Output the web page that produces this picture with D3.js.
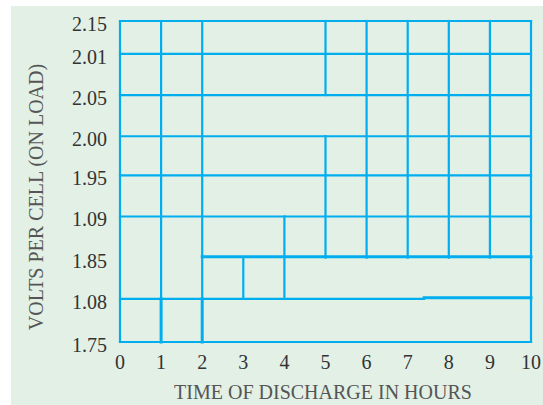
<!DOCTYPE html>
<html>
<head>
<meta charset="utf-8">
<script src="https://cdn.jsdelivr.net/npm/d3@7"></script>
<style>
  body { margin: 0; background: #ffffff; }
  text { font-family: "Liberation Serif", "DejaVu Serif", serif; }
</style>
</head>
<body>
<script>
// Width and height
var w = 543;
var h = 405;

// Tick labels (hours along the bottom, volts up the side, bottom to top)
var hours = [0, 1, 2, 3, 4, 5, 6, 7, 8, 9, 10];
var voltLabels = ["1.75", "1.08", "1.85", "1.09", "1.95", "2.00", "2.05", "2.01", "2.15"];
// level of each volt label on the grid
var voltLevels = [0, 1.05, 2.05, 3.05, 4.05, 5, 6, 7, 7.8];

// Horizontal grid pieces: [label index, from hour, to hour, heavy]
var hLines = [
  [8, 0, 10, 0],
  [7, 0, 10, 0],
  [6, 0, 10, 0],
  [5, 0, 10, 0],
  [4, 0, 10, 0],
  [3, 0, 10, 0],
  [2, 2, 10, 1],
  [1, 0, 7.4, 0],
  [1, 7.4, 10, 1],
  [0, 0, 10, 0]
];

// Vertical grid pieces: [hour, from label index, to label index, heavy]
var vLines = [
  [0, 0, 8, 0],
  [1, 1, 8, 0],
  [1, 0, 1, 1],
  [2, 1, 8, 0],
  [2, 0, 1, 1],
  [3, 1, 2, 0],
  [4, 1, 3, 0],
  [5, 6, 8, 0],
  [5, 2, 5, 0],
  [6, 2, 8, 0],
  [7, 2, 8, 0],
  [8, 2, 8, 0],
  [9, 2, 8, 0],
  [10, 0, 8, 0]
];

var lineColor = "#00aeef";

// Scales
var xScale = d3.scaleLinear()
    .domain([0, 10])
    .range([120, 531]);

var yScale = d3.scaleLinear()
    .domain([0, 7.8])
    .range([342, 21]);

function yAt(i) { return yScale(voltLevels[i]); }

// SVG
var svg = d3.select("body")
    .append("svg")
    .attr("width", w)
    .attr("height", h);

svg.append("rect")
    .attr("x", 11)
    .attr("y", 6)
    .attr("width", w - 11)
    .attr("height", h - 6)
    .attr("fill", "#e2f0e6");

// Grid lines
svg.selectAll("line.h")
    .data(hLines)
    .enter()
    .append("line")
    .attr("class", "h")
    .attr("x1", function(d) { return xScale(d[1]); })
    .attr("x2", function(d) { return xScale(d[2]); })
    .attr("y1", function(d) { return yAt(d[0]) - (d[3] ? 1 : 0); })
    .attr("y2", function(d) { return yAt(d[0]) - (d[3] ? 1 : 0); })
    .attr("stroke", lineColor)
    .attr("stroke-width", function(d) { return d[3] ? 3 : 2.2; })
    .attr("stroke-linecap", "square");

svg.selectAll("line.v")
    .data(vLines)
    .enter()
    .append("line")
    .attr("class", "v")
    .attr("x1", function(d) { return xScale(d[0]); })
    .attr("x2", function(d) { return xScale(d[0]); })
    .attr("y1", function(d) { return yAt(d[1]); })
    .attr("y2", function(d) { return yAt(d[2]); })
    .attr("stroke", lineColor)
    .attr("stroke-width", function(d) { return d[3] ? 3 : 2.2; })
    .attr("stroke-linecap", "square");

// Y tick labels
svg.selectAll("text.ylab")
    .data(voltLabels)
    .enter()
    .append("text")
    .attr("class", "ylab")
    .attr("x", 107)
    .attr("y", function(d, i) { return yAt(i) + 10; })
    .attr("text-anchor", "end")
    .attr("font-size", 20)
    .attr("fill", "#333")
    .text(function(d) { return d; });

// X tick labels
svg.selectAll("text.xlab")
    .data(hours)
    .enter()
    .append("text")
    .attr("class", "xlab")
    .attr("x", function(d) { return xScale(d); })
    .attr("y", 369)
    .attr("text-anchor", "middle")
    .attr("font-size", 20)
    .attr("fill", "#333")
    .text(function(d) { return d; });

// Axis titles
svg.append("text")
    .attr("x", 323)
    .attr("y", 399)
    .attr("text-anchor", "middle")
    .attr("font-size", 20)
    .attr("fill", "#555")
    .text("TIME OF DISCHARGE IN HOURS");

svg.append("text")
    .attr("transform", "translate(43,197) rotate(-90)")
    .attr("text-anchor", "middle")
    .attr("font-size", 20)
    .attr("fill", "#555")
    .text("VOLTS PER CELL (ON LOAD)");
</script>
</body>
</html>
